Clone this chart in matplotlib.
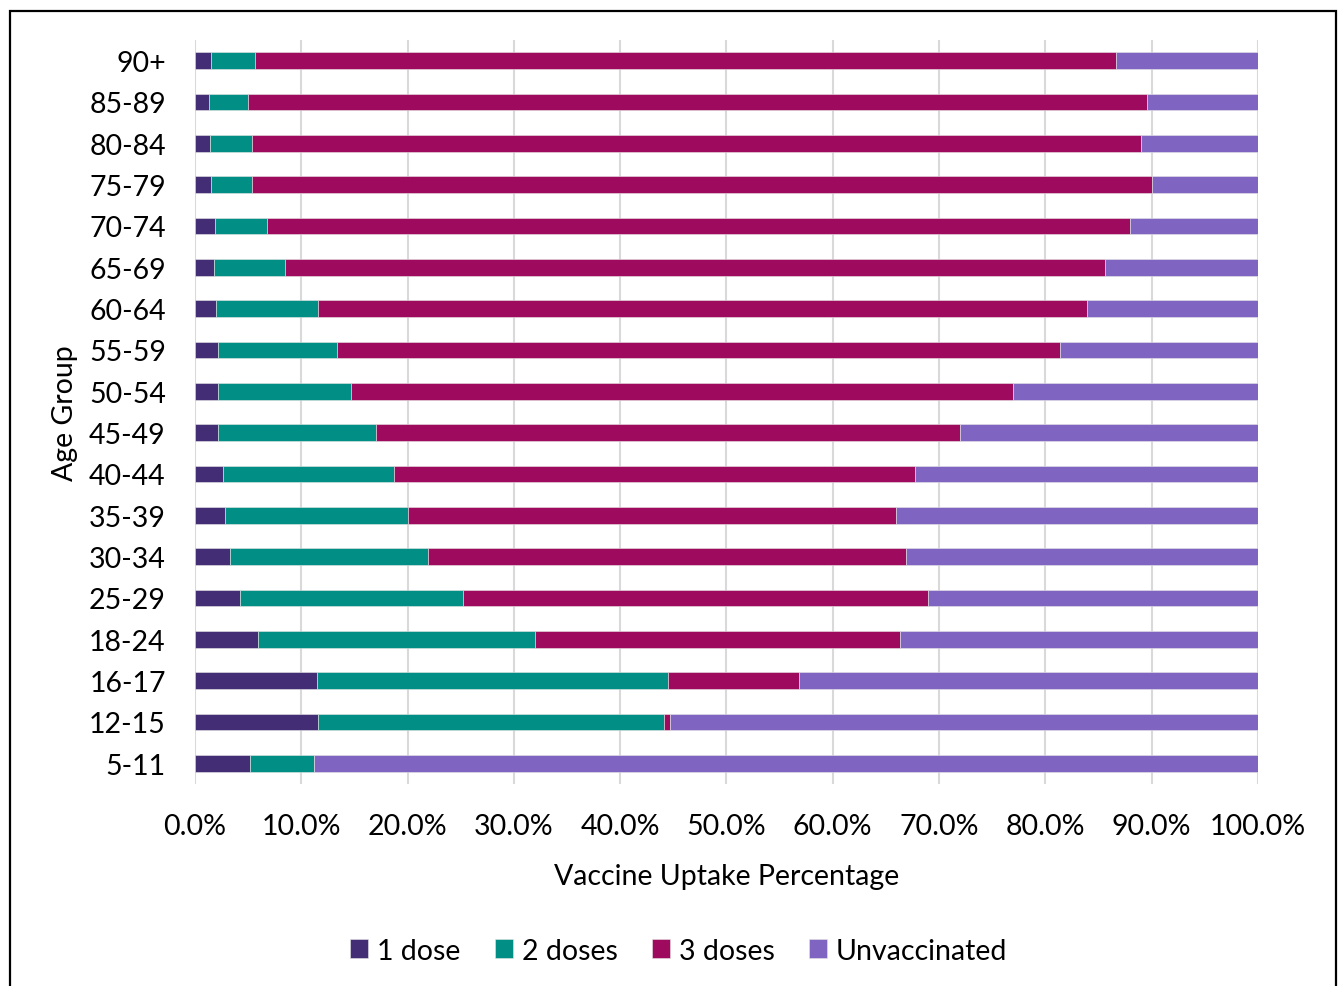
import matplotlib
matplotlib.use("Agg")
from matplotlib import pyplot
from matplotlib.patches import Rectangle
import numpy as np

pyplot.rcParams["font.family"] = ["Lato", "DejaVu Sans"]

ages = ["5-11", "12-15", "16-17", "18-24", "25-29", "30-34", "35-39", "40-44", "45-49",
        "50-54", "55-59", "60-64", "65-69", "70-74", "75-79", "80-84", "85-89", "90+"]
one_dose = [5.2, 11.6, 11.5, 5.9, 4.2, 3.3, 2.8, 2.6, 2.2, 2.2, 2.2, 2.0, 1.8, 1.9, 1.5, 1.45, 1.3, 1.5]
two_doses = [6.0, 32.5, 33.0, 26.1, 21.0, 18.6, 17.2, 16.1, 14.8, 12.5, 11.2, 9.6, 6.7, 4.9, 3.9, 3.95, 3.7, 4.1]
three_doses = [0.0, 0.6, 12.3, 34.3, 43.8, 45.0, 46.0, 49.0, 55.0, 62.3, 68.0, 72.3, 77.1, 81.2, 84.6, 83.6, 84.6, 81.1]
unvaccinated = [88.8, 55.3, 43.2, 33.7, 31.0, 33.1, 34.0, 32.3, 28.0, 23.0, 18.6, 16.1, 14.4, 12.0, 10.0, 11.0, 10.4, 13.3]

series = [("1 dose", one_dose, "#432D74"),
          ("2 doses", two_doses, "#008E85"),
          ("3 doses", three_doses, "#9E0A5D"),
          ("Unvaccinated", unvaccinated, "#8064C2")]

fs = 20.5

fig = pyplot.figure(figsize=(13.41, 9.87), dpi=100)
ax = fig.add_axes([0.1454, 0.2047, 0.938 - 0.1454, 0.9585 - 0.2047])

y = np.arange(len(ages))
left = np.zeros(len(ages))
for name, vals, col in series:
    vals = np.array(vals)
    ax.barh(y, vals, left=left, height=0.4, color=col, label=name,
            edgecolor="#E6E6E6", linewidth=0.4, zorder=3)
    left += vals

ax.set_xlim(0, 100)
ax.set_ylim(-0.5, len(ages) - 0.5)
ax.set_xticks(np.arange(0, 101, 10))
ax.set_xticklabels(["%.1f%%" % v for v in np.arange(0, 101, 10)], fontsize=fs)
ax.set_yticks(y)
ax.set_yticklabels(ages, fontsize=fs)
ax.tick_params(length=0)
ax.tick_params(axis="x", pad=21)
ax.tick_params(axis="y", pad=21)
ax.xaxis.grid(True, color="#D9D9D9", linewidth=1.5, zorder=0)
for s in ax.spines.values():
    s.set_visible(False)

ax.set_xlabel("Vaccine Uptake Percentage", fontsize=fs, labelpad=17)
ax.set_ylabel("Age Group", fontsize=fs, labelpad=8)

fig.legend(loc="center", bbox_to_anchor=(0.506, 0.0355), ncol=4, frameon=False,
           fontsize=fs, handlelength=0.65, handleheight=0.65, handletextpad=0.3,
           columnspacing=1.2)

fig.patches.append(Rectangle((10 / 1341, -0.05), 1326 / 1341, 1.05 - 12 / 987,
                             transform=fig.transFigure, fill=False,
                             edgecolor="black", linewidth=1.6))

pyplot.savefig("out.png", dpi=100)
